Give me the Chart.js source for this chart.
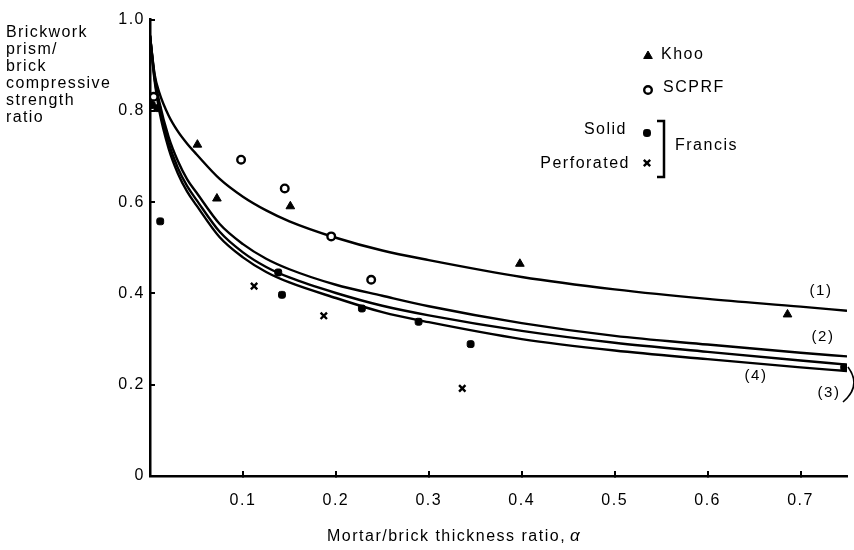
<!DOCTYPE html>
<html>
<head>
<meta charset="UTF-8">
<title>Brickwork prism / brick compressive strength ratio</title>
<script src="https://cdn.jsdelivr.net/npm/chart.js"></script>
<style>
  body { margin: 0; background: #fff; }
</style>
</head>
<body>
<canvas id="ratioChart" width="854" height="550"></canvas>
<script>
// curves (1)-(4)
const curveX = [0, 0.005, 0.01, 0.02, 0.03, 0.04, 0.05, 0.075, 0.1, 0.125, 0.15, 0.2, 0.25, 0.3, 0.4, 0.5, 0.6, 0.7, 0.75];
const curve1 = [0.965, 0.88, 0.84, 0.79, 0.755, 0.728, 0.705, 0.651, 0.612, 0.582, 0.558, 0.522, 0.494, 0.473, 0.436, 0.409, 0.388, 0.371, 0.362];
const curve2 = [0.965, 0.875, 0.82, 0.743, 0.69, 0.65, 0.621, 0.552, 0.508, 0.476, 0.453, 0.419, 0.395, 0.372, 0.335, 0.307, 0.288, 0.27, 0.262];
const curve3 = [0.965, 0.87, 0.81, 0.73, 0.675, 0.635, 0.605, 0.535, 0.49, 0.458, 0.435, 0.401, 0.373, 0.352, 0.318, 0.292, 0.272, 0.253, 0.244];
const curve4 = [0.965, 0.865, 0.80, 0.718, 0.663, 0.623, 0.593, 0.523, 0.479, 0.447, 0.424, 0.39, 0.359, 0.337, 0.30, 0.275, 0.256, 0.238, 0.23];

// test results
const khooX = [0.051, 0.072, 0.151, 0.398, 0.686];
const khooY = [0.726, 0.608, 0.591, 0.465, 0.354];
const scprfX = [0.004, 0.098, 0.145, 0.195, 0.238];
const scprfY = [0.831, 0.693, 0.630, 0.525, 0.430];
const solidX = [0.002, 0.008, 0.011, 0.138, 0.142, 0.228, 0.289, 0.345, 0.747];
const solidY = [0.813, 0.806, 0.558, 0.446, 0.397, 0.367, 0.338, 0.289, 0.238];
const perfX = [0.112, 0.187, 0.336];
const perfY = [0.416, 0.351, 0.192];

// axes
const xTickValues = [0.1, 0.2, 0.3, 0.4, 0.5, 0.6, 0.7];
const yTickValues = [0, 0.2, 0.4, 0.6, 0.8, 1.0];
const yTitle = ['Brickwork', 'prism/', 'brick', 'compressive', 'strength', 'ratio'];
const curveNames = ['(1)', '(2)', '(3)', '(4)'];

const FONT = "'Liberation Sans', Arial, sans-serif";
const INK = '#000';

function pts(xs, ys) { return xs.map((x, i) => ({ x: x, y: ys[i] })); }

function curveSet(ys) {
  return {
    data: pts(curveX, ys),
    showLine: true,
    borderColor: '#000',
    borderWidth: 2.4,
    pointRadius: 0,
    cubicInterpolationMode: 'monotone',
    fill: false,
    order: 2
  };
}

const markers = {
  khoo: { pointStyle: 'triangle', radius: 5, borderWidth: 1, bg: '#000' },
  scprf: { pointStyle: 'circle', radius: 3.8, borderWidth: 2.4, bg: '#fff' },
  solid: { pointStyle: 'rectRounded', radius: 4, borderWidth: 1, bg: '#000' },
  perf: { pointStyle: 'crossRot', radius: 4.5, borderWidth: 2.4, bg: '#000' }
};

function markSet(xs, ys, m) {
  return {
    data: pts(xs, ys),
    showLine: false,
    pointStyle: m.pointStyle,
    pointRadius: m.radius,
    pointBorderWidth: m.borderWidth,
    pointBackgroundColor: m.bg,
    pointBorderColor: '#000',
    order: 1
  };
}

// text, legend and curve labels
const annotations = {
  id: 'annotations',
  beforeDraw(chart) {
    chart.ctx.letterSpacing = '1.5px';
  },
  afterDraw(chart) {
    const ctx = chart.ctx;
    ctx.save();
    ctx.fillStyle = INK;
    ctx.strokeStyle = '#000';
    ctx.textBaseline = 'middle';

    // y title
    ctx.font = '16px ' + FONT;
    ctx.letterSpacing = '1.4px';
    ctx.textAlign = 'left';
    yTitle.forEach((t, i) => ctx.fillText(t, 6, 33 + i * 17));

    // x title
    ctx.letterSpacing = '1.5px';
    ctx.font = '16px ' + FONT;
    const xt = 'Mortar/brick thickness ratio, ';
    ctx.fillText(xt, 327, 537);
    const w = ctx.measureText(xt).width;
    ctx.font = 'italic 17px ' + FONT;
    ctx.fillText('\u03b1', 325 + w, 536);

    // legend
    ctx.letterSpacing = '1.5px';
    ctx.font = '16px ' + FONT;
    const drawMark = (m, x, y) => {
      ctx.fillStyle = m.bg;
      ctx.lineWidth = m.borderWidth;
      Chart.helpers.drawPoint(ctx, { pointStyle: m.pointStyle, radius: m.radius, rotation: 0, borderWidth: m.borderWidth }, x, y);
      ctx.fillStyle = INK;
    };
    drawMark(markers.khoo, 648, 56);
    ctx.fillText('Khoo', 661, 55);
    drawMark(markers.scprf, 648, 90);
    ctx.fillText('SCPRF', 663, 88);
    drawMark(markers.solid, 647, 133);
    drawMark(markers.perf, 647, 163);
    ctx.textAlign = 'right';
    ctx.fillText('Solid', 627, 130);
    ctx.fillText('Perforated', 630, 164);
    ctx.textAlign = 'left';
    ctx.fillText('Francis', 675, 146);
    ctx.lineWidth = 2.5;
    ctx.beginPath();
    ctx.moveTo(657, 121);
    ctx.lineTo(664, 121);
    ctx.lineTo(664, 177);
    ctx.lineTo(657, 177);
    ctx.stroke();

    // curve labels
    ctx.font = '15px ' + FONT;
    ctx.letterSpacing = '1.5px';
    ctx.textAlign = 'center';
    ctx.fillText(curveNames[0], 821, 291);
    ctx.fillText(curveNames[1], 823, 337);
    ctx.fillText(curveNames[2], 829, 393);
    ctx.fillText(curveNames[3], 756, 376);
    ctx.lineWidth = 1.6;
    ctx.beginPath();
    ctx.moveTo(843, 402);
    ctx.quadraticCurveTo(862, 386, 848, 367);
    ctx.stroke();
    ctx.restore();
  }
};

new Chart(document.getElementById('ratioChart'), {
  type: 'scatter',
  data: {
    datasets: [
      curveSet(curve1), curveSet(curve2), curveSet(curve3), curveSet(curve4),
      markSet(khooX, khooY, markers.khoo),
      markSet(scprfX, scprfY, markers.scprf),
      markSet(solidX, solidY, markers.solid),
      markSet(perfX, perfY, markers.perf)
    ]
  },
  options: {
    responsive: false,
    animation: false,
    layout: { padding: { top: 13, right: 7, left: 0, bottom: 0 } },
    plugins: { legend: { display: false }, tooltip: { enabled: false } },
    scales: {
      x: {
        type: 'linear',
        min: 0,
        max: 0.75,
        afterFit: s => { s.height = 74; },
        afterBuildTicks: s => { s.ticks = xTickValues.map(v => ({ value: v })); },
        ticks: { autoSkip: false, callback: v => v.toFixed(1), color: INK, font: { family: FONT, size: 16 }, padding: 20, maxRotation: 0 },
        grid: { drawOnChartArea: false, tickLength: -5, color: '#000', lineWidth: 2 },
        border: { color: '#000', width: 2.5 }
      },
      y: {
        min: 0,
        max: 1,
        afterFit: s => { s.width = 150; },
        afterBuildTicks: s => { s.ticks = yTickValues.map(v => ({ value: v })); },
        ticks: { autoSkip: false, callback: v => (v === 0 ? '0' : v.toFixed(1)), color: INK, font: { family: FONT, size: 16 }, padding: 10 },
        grid: { drawOnChartArea: false, tickLength: -5, color: '#000', lineWidth: 2 },
        border: { color: '#000', width: 2.5 }
      }
    }
  },
  plugins: [annotations]
});
</script>
</body>
</html>
